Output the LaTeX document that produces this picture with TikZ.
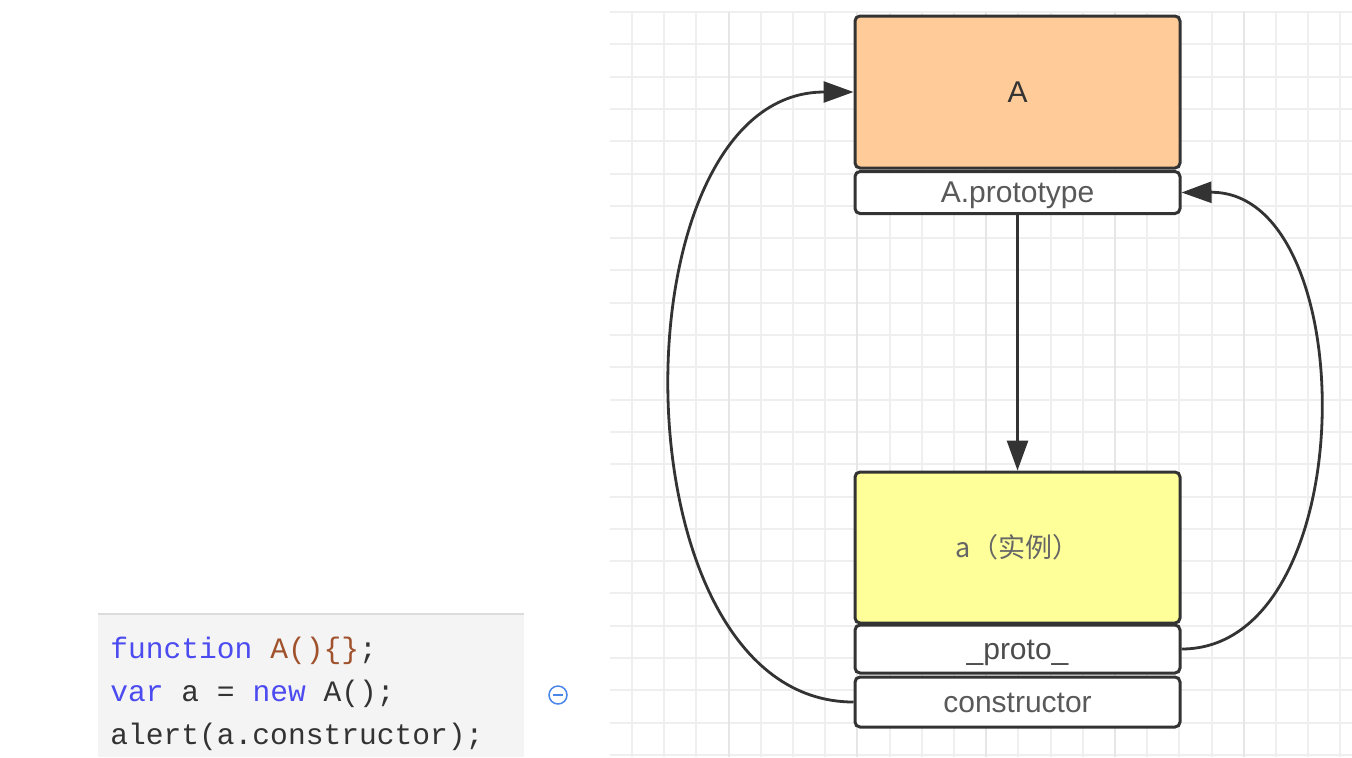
\documentclass[tikz,border=0pt]{standalone}
\usepackage{fontspec}
\setmainfont{Liberation Sans}
\newfontfamily\cjk{Noto Sans CJK SC}
\newfontfamily\codefont{Liberation Mono}
\usetikzlibrary{arrows.meta}
\definecolor{gridminor}{HTML}{EFEFEF}
\definecolor{gridmajor}{HTML}{E6E6E6}
\definecolor{boxline}{HTML}{333333}
\definecolor{peach}{HTML}{FFCC99}
\definecolor{lemon}{HTML}{FFFF99}
\definecolor{codebg}{HTML}{F4F4F4}
\definecolor{codetop}{HTML}{DCDCDC}
\definecolor{kw}{HTML}{4B4BF0}
\definecolor{fn}{HTML}{A0522D}
\definecolor{codetxt}{HTML}{333333}
\definecolor{iconblue}{HTML}{4A86E8}
\tikzset{
  umlbox/.style={draw=boxline, line width=1.5pt, rounded corners=2.5pt,
    minimum width=162.5pt, inner sep=0pt, text height=10pt, text depth=0pt,
    font=\fontsize{15}{18}\selectfont},
  arr/.style={draw=boxline, line width=1.4pt,
    -{Triangle[length=15pt 0, width=10.5pt 0]}},
  codeline/.style={anchor=base west, inner sep=0pt, text=codetxt,
    font=\codefont\fontsize{14.8}{17}\selectfont},
}
\begin{document}
\begin{tikzpicture}[x=0.5pt,y=-0.5pt]
\useasboundingbox (0,0) rectangle (1352,757);
\fill[white] (0,0) rectangle (1352,757);
% grid
\foreach \k in {0,...,23} {
  \draw[gridminor, line width=1pt] (610,{12+32.3*\k}) -- (1352,{12+32.3*\k});
}
\foreach \k in {0,...,22} {
  \pgfmathtruncatemacro{\m}{mod(\k,4)}
  \ifnum\m=3
    \draw[gridmajor, line width=1pt] ({632+32.2*\k},12) -- ({632+32.2*\k},757);
  \else
    \draw[gridminor, line width=1pt] ({632+32.2*\k},12) -- ({632+32.2*\k},757);
  \fi
}
% boxes
\node[umlbox, fill=peach, minimum height=76pt, text=boxline] (A) at (1017.5,92) {A};
\node[umlbox, fill=white, minimum height=21pt, text=black!65, yshift=-0.5pt] (proto) at (1017.5,191.5) {A.prototype};
\node[umlbox, fill=lemon, minimum height=75.5pt, text=black!60,
  font=\cjk\fontsize{13.5}{16}\selectfont] (a) at (1017.5,547.5) {a（实例）};
\node[umlbox, fill=white, minimum height=24pt, text=black!70] (pr) at (1017.5,649) {\_proto\_};
\node[umlbox, fill=white, minimum height=25pt, text=black!65] (con) at (1017.5,702) {constructor};
% connectors
\draw[arr] (proto.south) -- (a.north);
\draw[arr] (con.west) .. controls (611,702) and (611,92) .. (A.west);
\draw[arr] (pr.east) .. controls (1364,649) and (1364,191) .. (proto.east);
% code block
\fill[codebg] (98,614) rectangle (524,757);
\draw[codetop, line width=0.8pt] (98,614) -- (524,614);
\node[codeline] (l1) at (110,658) {\textcolor{kw}{function} \textcolor{fn}{A()\{\}};};
\node[codeline] (l2) at (110,701) {\textcolor{kw}{var} a = \textcolor{kw}{new} A();};
\node[codeline] (l3) at (110,744) {alert(a.constructor);};
% icon
\node[draw=iconblue, line width=0.75pt, circle, minimum size=9pt, inner sep=0pt] (icon) at (558,695) {};
\draw[iconblue, line width=0.75pt] ([xshift=-2.5pt]icon.center) -- ([xshift=2.5pt]icon.center);
\end{tikzpicture}
\end{document}
